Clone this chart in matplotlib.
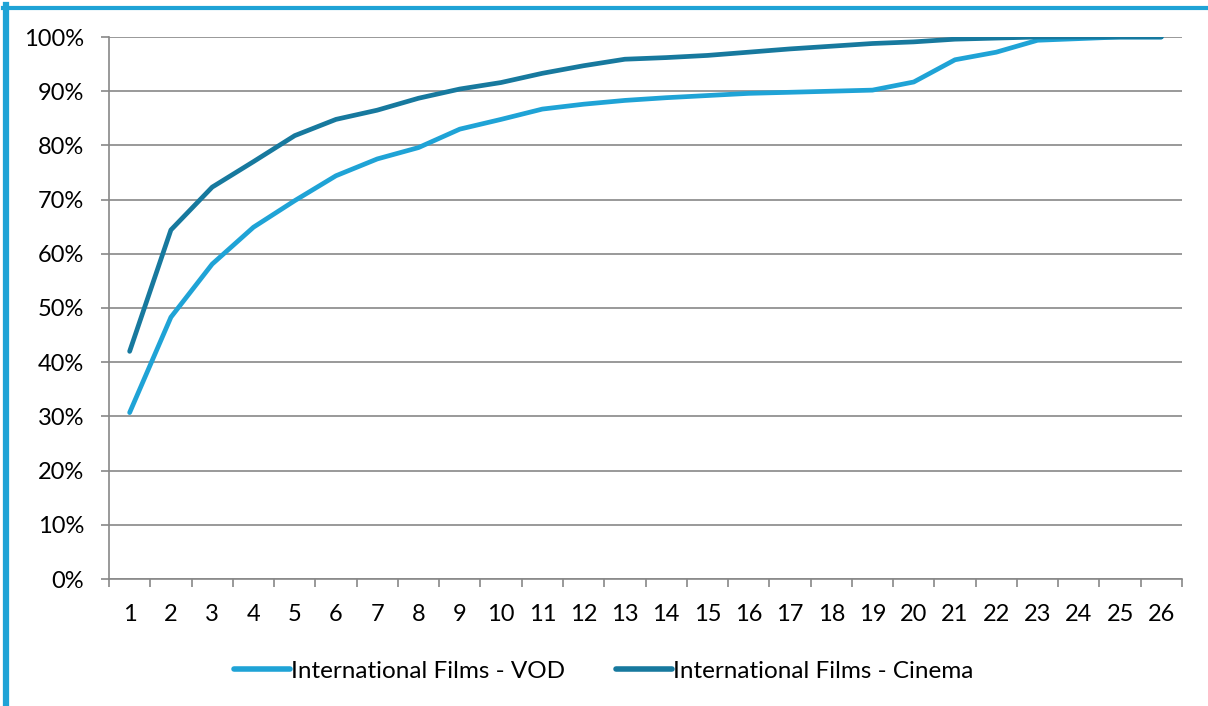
import numpy as np
import matplotlib.pyplot as plt
from matplotlib.lines import Line2D
from matplotlib.ticker import FixedLocator, PercentFormatter

plt.rcParams['font.family'] = ['Lato', 'DejaVu Sans']

categories = list(range(1, 27))
vod = [0.307, 0.483, 0.581, 0.649, 0.698, 0.744, 0.775, 0.796, 0.830, 0.848,
       0.867, 0.876, 0.883, 0.888, 0.892, 0.896, 0.898, 0.900, 0.902, 0.917,
       0.958, 0.972, 0.994, 0.997, 1.0, 1.0]
cinema = [0.420, 0.644, 0.723, 0.770, 0.818, 0.848, 0.865, 0.887, 0.904, 0.916,
          0.933, 0.947, 0.959, 0.962, 0.966, 0.972, 0.978, 0.983, 0.988, 0.991,
          0.996, 0.998, 1.0, 1.0, 1.0, 1.0]

W, H = 1208, 706
fig = plt.figure(figsize=(W / 100, H / 100), dpi=100)
ax = fig.add_axes([109 / W, 1 - 579 / H, (1182 - 109) / W, (579 - 37) / H])

c_vod = '#1fa3d6'
c_cin = '#17799e'
ax.plot(categories, vod, color=c_vod, lw=3.4, solid_capstyle='round',
        label='International Films - VOD', zorder=3)
ax.plot(categories, cinema, color=c_cin, lw=3.4, solid_capstyle='round',
        label='International Films - Cinema', zorder=3)

ax.set_xlim(0.5, 26.5)
ax.set_ylim(0, 1)
ax.yaxis.set_major_locator(FixedLocator(np.arange(0, 1.01, 0.1)))
ax.yaxis.set_major_formatter(PercentFormatter(1.0, decimals=0))
ax.grid(axis='y', color='#888888', lw=1.2)
ax.set_axisbelow(True)

ax.xaxis.set_major_locator(FixedLocator(np.arange(0.5, 27, 1)))
ax.xaxis.set_minor_locator(FixedLocator(categories))
ax.set_xticklabels([])
ax.set_xticklabels([str(c) for c in categories], minor=True)
ax.tick_params(axis='x', which='major', length=6, width=1.2, color='#888888', direction='out')
ax.tick_params(axis='x', which='minor', length=0, pad=18, labelsize=17)
ax.tick_params(axis='y', length=6, width=1.2, color='#888888', pad=12, labelsize=17)

for s in ['top', 'right']:
    ax.spines[s].set_visible(False)
for s in ['left', 'bottom']:
    ax.spines[s].set_color('#888888')
    ax.spines[s].set_linewidth(1.2)

leg = fig.legend(loc='center', bbox_to_anchor=(0.5, 1 - 671 / H), ncol=2, frameon=False,
                 fontsize=17.5, handlelength=2.3, handletextpad=0.05, columnspacing=2.1)
for h in leg.legend_handles:
    h.set_linewidth(4)

# blue frame on left and top
fig.add_artist(Line2D([6 / W, 6 / W], [0, 1 - 5 / H], color='#1fa3d6', lw=4.5))
fig.add_artist(Line2D([3 / W, 1], [1 - 7.5 / H, 1 - 7.5 / H], color='#1fa3d6', lw=3))

fig.savefig('out.png', dpi=100)
